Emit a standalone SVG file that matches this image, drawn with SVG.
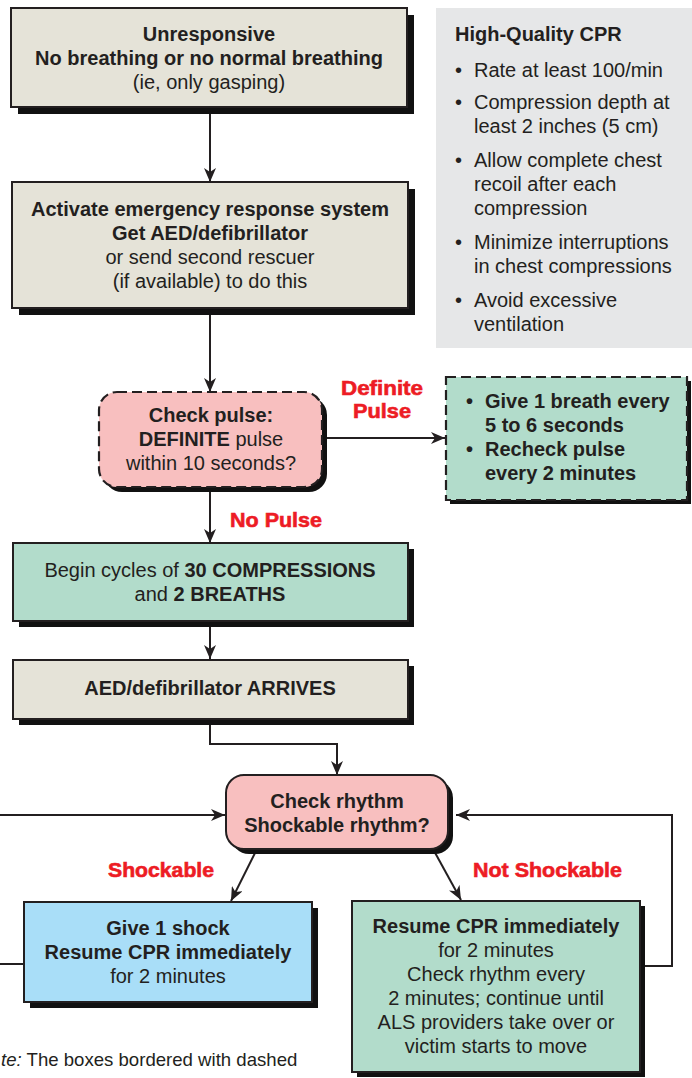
<svg xmlns="http://www.w3.org/2000/svg" width="692" height="1078" viewBox="0 0 692 1078">
<style>
.t{font-family:"Liberation Sans",Arial,Helvetica,sans-serif;font-size:20px;fill:#231f20;text-anchor:middle}
.s{text-anchor:start}
.b{font-weight:bold}
.red{fill:#ed1c24;font-weight:bold;stroke:#ed1c24;stroke-width:0.6}
.box{stroke:#231f20;stroke-width:2}
.sh{fill:#111}
.dash{stroke-dasharray:10 5;stroke-width:2.2}
.beige{fill:#e5e3d8}
.pink{fill:#f8bfbf}
.green{fill:#b2dccb}
.blue{fill:#a9def8}
.conn{fill:none;stroke:#231f20;stroke-width:2}
</style>
<defs>
<marker id="ah" viewBox="0 0 14 12" refX="14" refY="6" markerWidth="14" markerHeight="12" markerUnits="userSpaceOnUse" orient="auto">
<path d="M0,0 L14,6 L0,12 L4,6 z" fill="#231f20"/>
</marker>
</defs>

<g id="panel">
<rect x="436" y="8" width="256" height="340" fill="#e6e7e8"/>
<text class="t s b" x="455" y="41">High-Quality CPR</text>
<text class="t s" x="455" y="77">•</text><text class="t s" x="474" y="77">Rate at least 100/min</text>
<text class="t s" x="455" y="109">•</text><text class="t s" x="474" y="109">Compression depth at</text>
<text class="t s" x="474" y="133">least 2 inches (5 cm)</text>
<text class="t s" x="455" y="167">•</text><text class="t s" x="474" y="167">Allow complete chest</text>
<text class="t s" x="474" y="191">recoil after each</text>
<text class="t s" x="474" y="215">compression</text>
<text class="t s" x="455" y="249">•</text><text class="t s" x="474" y="249">Minimize interruptions</text>
<text class="t s" x="474" y="273">in chest compressions</text>
<text class="t s" x="455" y="307">•</text><text class="t s" x="474" y="307">Avoid excessive</text>
<text class="t s" x="474" y="331">ventilation</text>
</g>

<g id="connectors">
<path class="conn" d="M210,107 V182" marker-end="url(#ah)"/>
<path class="conn" d="M210,308 V392" marker-end="url(#ah)"/>
<path class="conn" d="M322,438 H445" marker-end="url(#ah)"/>
<path class="conn" d="M210,487 V543" marker-end="url(#ah)"/>
<path class="conn" d="M210,621 V659" marker-end="url(#ah)"/>
<path class="conn" d="M210,719 V744 H337 V775" marker-end="url(#ah)"/>
<path class="conn" d="M0,815 H225" marker-end="url(#ah)"/>
<path class="conn" d="M257,849 L231,901" marker-end="url(#ah)"/>
<path class="conn" d="M433,849 L461,900" marker-end="url(#ah)"/>
<path class="conn" d="M24,964 H0"/>
<path class="conn" d="M640,966 H672 V815 H456" marker-end="url(#ah)"/>
</g>

<g id="n-unresponsive">
<rect class="sh" x="18" y="15" width="396" height="99"/>
<rect class="box beige" x="11" y="8" width="396" height="99"/>
<text class="t b" x="209" y="41">Unresponsive</text>
<text class="t b" x="209" y="65">No breathing or no normal breathing</text>
<text class="t" x="209" y="89">(ie, only gasping)</text>
</g>

<g id="n-activate">
<rect class="sh" x="19" y="189" width="396" height="126"/>
<rect class="box beige" x="12" y="182" width="396" height="126"/>
<text class="t b" x="210" y="216">Activate emergency response system</text>
<text class="t b" x="210" y="240">Get AED/defibrillator</text>
<text class="t" x="210" y="264">or send second rescuer</text>
<text class="t" x="210" y="288">(if available) to do this</text>
</g>

<g id="n-pulse">
<rect class="sh" x="104" y="397" width="223" height="95" rx="18"/>
<rect class="box pink dash" x="99" y="392" width="223" height="95" rx="18"/>
<text class="t b" x="211" y="422">Check pulse:</text>
<text class="t" x="211" y="446"><tspan class="b">DEFINITE</tspan> pulse</text>
<text class="t" x="211" y="470">within 10 seconds?</text>
</g>

<g id="l-definite">
<text class="t s red" x="341" y="395" textLength="82" lengthAdjust="spacingAndGlyphs">Definite</text>
<text class="t s red" x="353" y="418" textLength="58" lengthAdjust="spacingAndGlyphs">Pulse</text>
</g>

<g id="n-breath">
<rect class="sh" x="450" y="381" width="241" height="123"/>
<rect class="box green dash" x="446" y="377" width="241" height="123"/>
<text class="t s b" x="466" y="408">•</text><text class="t s b" x="485" y="408">Give 1 breath every</text>
<text class="t s b" x="485" y="432">5 to 6 seconds</text>
<text class="t s b" x="466" y="456">•</text><text class="t s b" x="485" y="456">Recheck pulse</text>
<text class="t s b" x="485" y="480">every 2 minutes</text>
</g>

<g id="l-nopulse">
<text class="t s red" x="230" y="527" textLength="92" lengthAdjust="spacingAndGlyphs">No Pulse</text>
</g>

<g id="n-cycles">
<rect class="sh" x="19" y="549" width="395" height="78"/>
<rect class="box green" x="13" y="543" width="395" height="78"/>
<text class="t" x="210" y="577">Begin cycles of <tspan class="b">30 COMPRESSIONS</tspan></text>
<text class="t" x="210" y="601">and <tspan class="b">2 BREATHS</tspan></text>
</g>

<g id="n-aed">
<rect class="sh" x="19" y="666" width="395" height="59"/>
<rect class="box beige" x="13" y="660" width="395" height="59"/>
<text class="t b" x="210" y="695">AED/defibrillator ARRIVES</text>
</g>

<g id="n-rhythm">
<rect class="sh" x="231" y="780" width="222" height="74" rx="18"/>
<rect class="box pink" x="226" y="775" width="222" height="74" rx="18"/>
<text class="t b" x="337" y="808">Check rhythm</text>
<text class="t b" x="337" y="832">Shockable rhythm?</text>
</g>

<g id="l-shockable">
<text class="t s red" x="108" y="877" textLength="106" lengthAdjust="spacingAndGlyphs">Shockable</text>
<text class="t s red" x="473" y="877" textLength="149" lengthAdjust="spacingAndGlyphs">Not Shockable</text>
</g>

<g id="n-shock">
<rect class="sh" x="30" y="908" width="288" height="100"/>
<rect class="box blue" x="24" y="902" width="288" height="100"/>
<text class="t b" x="168" y="935">Give 1 shock</text>
<text class="t b" x="168" y="959">Resume CPR immediately</text>
<text class="t" x="168" y="983">for 2 minutes</text>
</g>

<g id="n-resume">
<rect class="sh" x="357" y="906" width="288" height="171"/>
<rect class="box green" x="352" y="901" width="288" height="171"/>
<text class="t b" x="496" y="933">Resume CPR immediately</text>
<text class="t" x="496" y="957">for 2 minutes</text>
<text class="t" x="496" y="981">Check rhythm every</text>
<text class="t" x="496" y="1005">2 minutes; continue until</text>
<text class="t" x="496" y="1029">ALS providers take over or</text>
<text class="t" x="496" y="1053">victim starts to move</text>
</g>

<g id="note">
<text class="t s" x="1" y="1066" style="font-size:18.6px"><tspan font-style="italic">te:</tspan> The boxes bordered with dashed</text>
</g>
</svg>
